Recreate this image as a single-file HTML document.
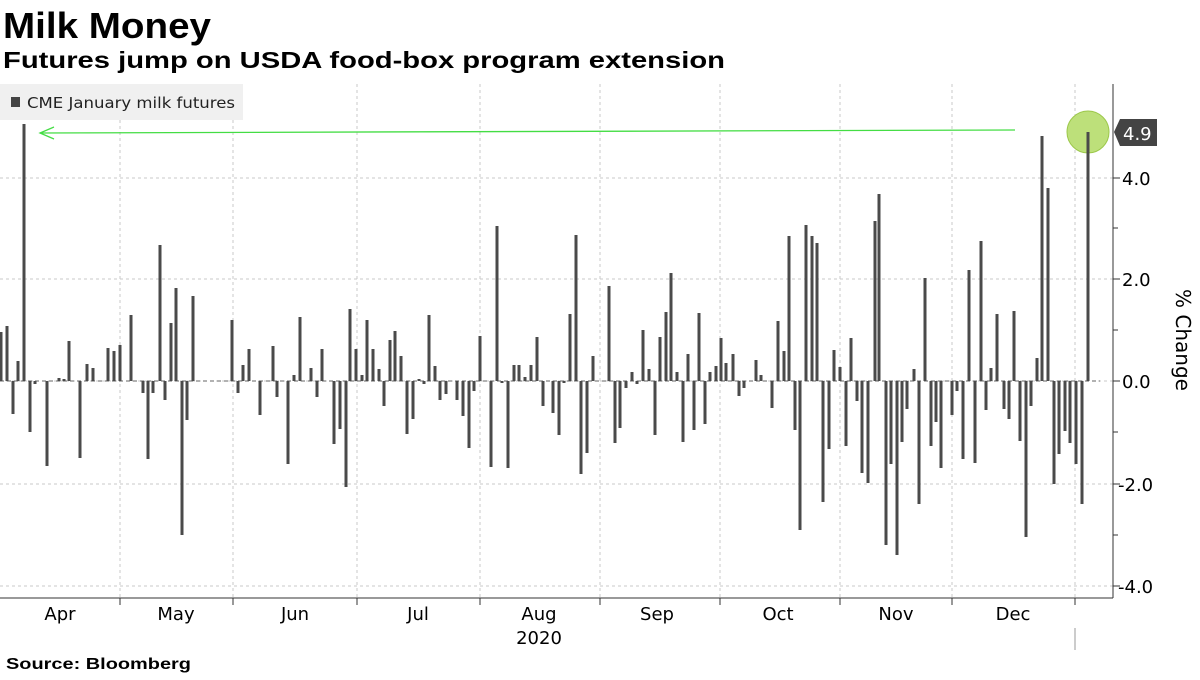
<!DOCTYPE html>
<html><head><meta charset="utf-8"><style>
body{margin:0;background:#fff;width:1200px;height:675px;overflow:hidden;font-family:"Liberation Sans",sans-serif}
</style></head><body>
<svg width="1200" height="675" xmlns="http://www.w3.org/2000/svg" font-family="'DejaVu Sans','Liberation Sans',sans-serif">
<text x="3" y="38" font-size="36" font-weight="bold" fill="#000" font-family="'Liberation Sans',sans-serif" textLength="208" lengthAdjust="spacingAndGlyphs">Milk Money</text>
<text x="3" y="68" font-size="23" font-weight="bold" fill="#000" font-family="'Liberation Sans',sans-serif" textLength="722" lengthAdjust="spacingAndGlyphs">Futures jump on USDA food-box program extension</text>
<g stroke="#c8c8c8" stroke-width="1" stroke-dasharray="3,3">
<line x1="0" y1="178" x2="1113" y2="178"/><line x1="0" y1="279" x2="1113" y2="279"/><line x1="0" y1="381" x2="1113" y2="381"/><line x1="0" y1="484" x2="1113" y2="484"/><line x1="0" y1="586" x2="1113" y2="586"/>
<line x1="120" y1="84" x2="120" y2="598"/><line x1="233" y1="84" x2="233" y2="598"/><line x1="357" y1="84" x2="357" y2="598"/><line x1="480" y1="84" x2="480" y2="598"/><line x1="600" y1="84" x2="600" y2="598"/><line x1="720" y1="84" x2="720" y2="598"/><line x1="840" y1="84" x2="840" y2="598"/><line x1="952" y1="84" x2="952" y2="598"/><line x1="1075" y1="84" x2="1075" y2="598"/>
</g>
<line x1="0" y1="381" x2="1100" y2="381" stroke="#666" stroke-width="1" stroke-dasharray="4,3"/>
<rect x="0" y="84" width="243" height="36" fill="#f0f0f0"/>
<rect x="11" y="97" width="9" height="10" fill="#444"/>
<text x="27" y="108" font-size="15" fill="#222" textLength="208" lengthAdjust="spacingAndGlyphs">CME January milk futures</text>
<circle cx="1088" cy="132" r="21" fill="#bde07a" stroke="#9cc84a"/>
<g fill="#4a4a4a">
<rect x="-0.5" y="332" width="3" height="49"/><rect x="5.5" y="326" width="3" height="55"/><rect x="11.5" y="381" width="3" height="33"/><rect x="16.5" y="361" width="3" height="20"/><rect x="22.5" y="124" width="3" height="257"/><rect x="28.5" y="381" width="3" height="51"/><rect x="33.5" y="381" width="3" height="3"/><rect x="45.5" y="381" width="3" height="85"/><rect x="57.5" y="378" width="3" height="3"/><rect x="62.5" y="379" width="3" height="2"/><rect x="67.5" y="341" width="3" height="40"/><rect x="78.5" y="381" width="3" height="77"/><rect x="85.5" y="364" width="3" height="17"/><rect x="91.5" y="368" width="3" height="13"/><rect x="106.5" y="348" width="3" height="33"/><rect x="112.5" y="351" width="3" height="30"/><rect x="118.5" y="345" width="3" height="36"/><rect x="129.5" y="315" width="3" height="66"/><rect x="141.5" y="381" width="3" height="12"/><rect x="146.5" y="381" width="3" height="78"/><rect x="151.5" y="381" width="3" height="12"/><rect x="158.5" y="245" width="3" height="136"/><rect x="163.5" y="381" width="3" height="19"/><rect x="169.5" y="323" width="3" height="58"/><rect x="174.5" y="288" width="3" height="93"/><rect x="180.5" y="381" width="3" height="154"/><rect x="185.5" y="381" width="3" height="39"/><rect x="191.5" y="296" width="3" height="85"/><rect x="230.5" y="320" width="3" height="61"/><rect x="236.5" y="381" width="3" height="12"/><rect x="241.5" y="365" width="3" height="16"/><rect x="247.5" y="349" width="3" height="32"/><rect x="258.5" y="381" width="3" height="34"/><rect x="271.5" y="346" width="3" height="35"/><rect x="275.5" y="381" width="3" height="16"/><rect x="286.5" y="381" width="3" height="83"/><rect x="292.5" y="375" width="3" height="6"/><rect x="298.5" y="317" width="3" height="64"/><rect x="309.5" y="368" width="3" height="13"/><rect x="315.5" y="381" width="3" height="16"/><rect x="320.5" y="349" width="3" height="32"/><rect x="332.5" y="381" width="3" height="63"/><rect x="338.5" y="381" width="3" height="48"/><rect x="344.5" y="381" width="3" height="106"/><rect x="348.5" y="309" width="3" height="72"/><rect x="354.5" y="349" width="3" height="32"/><rect x="360.5" y="375" width="3" height="6"/><rect x="365.5" y="320" width="3" height="61"/><rect x="371.5" y="349" width="3" height="32"/><rect x="377.5" y="369" width="3" height="12"/><rect x="382.5" y="381" width="3" height="25"/><rect x="388.5" y="340" width="3" height="41"/><rect x="393.5" y="331" width="3" height="50"/><rect x="399.5" y="356" width="3" height="25"/><rect x="405.5" y="381" width="3" height="53"/><rect x="411.5" y="381" width="3" height="38"/><rect x="417.5" y="379" width="3" height="2"/><rect x="422.5" y="381" width="3" height="3"/><rect x="427.5" y="315" width="3" height="66"/><rect x="433.5" y="366" width="3" height="15"/><rect x="438.5" y="381" width="3" height="19"/><rect x="444.5" y="381" width="3" height="13"/><rect x="455.5" y="381" width="3" height="19"/><rect x="461.5" y="381" width="3" height="35"/><rect x="467.5" y="381" width="3" height="67"/><rect x="472.5" y="381" width="3" height="10"/><rect x="478.5" y="336" width="3" height="45"/><rect x="489.5" y="381" width="3" height="86"/><rect x="495.5" y="226" width="3" height="155"/><rect x="500.5" y="381" width="3" height="2"/><rect x="506.5" y="381" width="3" height="87"/><rect x="512.5" y="365" width="3" height="16"/><rect x="517.5" y="365" width="3" height="16"/><rect x="523.5" y="377" width="3" height="4"/><rect x="529.5" y="365" width="3" height="16"/><rect x="535.5" y="337" width="3" height="44"/><rect x="541.5" y="381" width="3" height="25"/><rect x="551.5" y="381" width="3" height="32"/><rect x="557.5" y="381" width="3" height="54"/><rect x="562.5" y="381" width="3" height="2"/><rect x="568.5" y="314" width="3" height="67"/><rect x="574.5" y="235" width="3" height="146"/><rect x="579.5" y="381" width="3" height="93"/><rect x="585.5" y="381" width="3" height="72"/><rect x="591.5" y="356" width="3" height="25"/><rect x="607.5" y="286" width="3" height="95"/><rect x="613.5" y="381" width="3" height="62"/><rect x="618.5" y="381" width="3" height="47"/><rect x="624.5" y="381" width="3" height="7"/><rect x="630.5" y="372" width="3" height="9"/><rect x="635.5" y="381" width="3" height="3"/><rect x="641.5" y="330" width="3" height="51"/><rect x="647.5" y="369" width="3" height="12"/><rect x="653.5" y="381" width="3" height="54"/><rect x="658.5" y="337" width="3" height="44"/><rect x="664.5" y="312" width="3" height="69"/><rect x="669.5" y="273" width="3" height="108"/><rect x="675.5" y="372" width="3" height="9"/><rect x="681.5" y="381" width="3" height="61"/><rect x="686.5" y="354" width="3" height="27"/><rect x="692.5" y="381" width="3" height="49"/><rect x="697.5" y="313" width="3" height="68"/><rect x="703.5" y="381" width="3" height="43"/><rect x="708.5" y="372" width="3" height="9"/><rect x="714.5" y="366" width="3" height="15"/><rect x="719.5" y="338" width="3" height="43"/><rect x="724.5" y="363" width="3" height="18"/><rect x="731.5" y="354" width="3" height="27"/><rect x="737.5" y="381" width="3" height="15"/><rect x="742.5" y="381" width="3" height="7"/><rect x="754.5" y="360" width="3" height="21"/><rect x="759.5" y="375" width="3" height="6"/><rect x="770.5" y="381" width="3" height="27"/><rect x="776.5" y="321" width="3" height="60"/><rect x="782.5" y="351" width="3" height="30"/><rect x="787.5" y="236" width="3" height="145"/><rect x="793.5" y="381" width="3" height="49"/><rect x="798.5" y="381" width="3" height="149"/><rect x="804.5" y="225" width="3" height="156"/><rect x="810.5" y="236" width="3" height="145"/><rect x="815.5" y="243" width="3" height="138"/><rect x="821.5" y="381" width="3" height="121"/><rect x="827.5" y="381" width="3" height="68"/><rect x="832.5" y="350" width="3" height="31"/><rect x="838.5" y="367" width="3" height="14"/><rect x="844.5" y="381" width="3" height="65"/><rect x="849.5" y="338" width="3" height="43"/><rect x="855.5" y="381" width="3" height="20"/><rect x="860.5" y="381" width="3" height="92"/><rect x="866.5" y="381" width="3" height="102"/><rect x="873.5" y="221" width="3" height="160"/><rect x="877.5" y="194" width="3" height="187"/><rect x="884.5" y="381" width="3" height="164"/><rect x="889.5" y="381" width="3" height="83"/><rect x="895.5" y="381" width="3" height="174"/><rect x="900.5" y="381" width="3" height="61"/><rect x="905.5" y="381" width="3" height="28"/><rect x="912.5" y="369" width="3" height="12"/><rect x="917.5" y="381" width="3" height="123"/><rect x="923.5" y="278" width="3" height="103"/><rect x="929.5" y="381" width="3" height="65"/><rect x="934.5" y="381" width="3" height="41"/><rect x="939.5" y="381" width="3" height="87"/><rect x="950.5" y="381" width="3" height="34"/><rect x="955.5" y="381" width="3" height="10"/><rect x="961.5" y="381" width="3" height="78"/><rect x="967.5" y="270" width="3" height="111"/><rect x="973.5" y="381" width="3" height="82"/><rect x="979.5" y="241" width="3" height="140"/><rect x="984.5" y="381" width="3" height="29"/><rect x="989.5" y="368" width="3" height="13"/><rect x="995.5" y="314" width="3" height="67"/><rect x="1002.5" y="381" width="3" height="28"/><rect x="1007.5" y="381" width="3" height="38"/><rect x="1012.5" y="311" width="3" height="70"/><rect x="1018.5" y="381" width="3" height="60"/><rect x="1024.5" y="381" width="3" height="156"/><rect x="1029.5" y="381" width="3" height="25"/><rect x="1035.5" y="358" width="3" height="23"/><rect x="1040.5" y="136" width="3" height="245"/><rect x="1046.5" y="188" width="3" height="193"/><rect x="1052.5" y="381" width="3" height="103"/><rect x="1057.5" y="381" width="3" height="73"/><rect x="1063.5" y="381" width="3" height="50"/><rect x="1068.5" y="381" width="3" height="62"/><rect x="1074.5" y="381" width="3" height="83"/><rect x="1080.5" y="381" width="3" height="123"/><rect x="1086.5" y="132" width="3" height="249"/>
</g>
<line x1="1015" y1="130" x2="40" y2="133" stroke="#44dd44" stroke-width="1.3"/>
<polyline points="54,127 40,133 54,139" fill="none" stroke="#44dd44" stroke-width="1.3"/>
<line x1="1113" y1="84" x2="1113" y2="598" stroke="#333"/>
<line x1="0" y1="598" x2="1113" y2="598" stroke="#333"/>
<g stroke="#333">
<line x1="1113" y1="178" x2="1120" y2="178"/><line x1="1113" y1="279" x2="1120" y2="279"/><line x1="1113" y1="381" x2="1120" y2="381"/><line x1="1113" y1="484" x2="1120" y2="484"/><line x1="1113" y1="586" x2="1120" y2="586"/>
<line x1="1113" y1="228" x2="1118" y2="228"/><line x1="1113" y1="330" x2="1118" y2="330"/><line x1="1113" y1="432" x2="1118" y2="432"/><line x1="1113" y1="535" x2="1118" y2="535"/>
<line x1="120" y1="598" x2="120" y2="605"/><line x1="233" y1="598" x2="233" y2="605"/><line x1="357" y1="598" x2="357" y2="605"/><line x1="480" y1="598" x2="480" y2="605"/><line x1="600" y1="598" x2="600" y2="605"/><line x1="720" y1="598" x2="720" y2="605"/><line x1="840" y1="598" x2="840" y2="605"/><line x1="952" y1="598" x2="952" y2="605"/><line x1="1075" y1="598" x2="1075" y2="605"/>
<line x1="1075" y1="628" x2="1075" y2="650" stroke="#999"/>
</g>
<polygon points="1114,132 1120,119 1157,119 1157,146 1120,146" fill="#444"/>
<text x="1123" y="140" font-size="18" fill="#fff">4.9</text>
<g font-size="18" fill="#000">
<text x="1122" y="185">4.0</text><text x="1122" y="286">2.0</text><text x="1122" y="388">0.0</text><text x="1118" y="491">-2.0</text><text x="1118" y="593">-4.0</text>
</g>
<text transform="translate(1176,340) rotate(90)" font-size="20" fill="#000" text-anchor="middle">% Change</text>
<g font-size="18" fill="#000" text-anchor="middle">
<text x="60" y="620">Apr</text><text x="176" y="620">May</text><text x="295" y="620">Jun</text><text x="418" y="620">Jul</text><text x="539" y="620">Aug</text><text x="657" y="620">Sep</text><text x="778" y="620">Oct</text><text x="896" y="620">Nov</text><text x="1013" y="620">Dec</text>
<text x="539" y="644">2020</text>
</g>
<text x="6" y="669" font-size="16" font-weight="bold" fill="#000" font-family="'Liberation Sans',sans-serif" textLength="185" lengthAdjust="spacingAndGlyphs">Source: Bloomberg</text>
</svg>
</body></html>
